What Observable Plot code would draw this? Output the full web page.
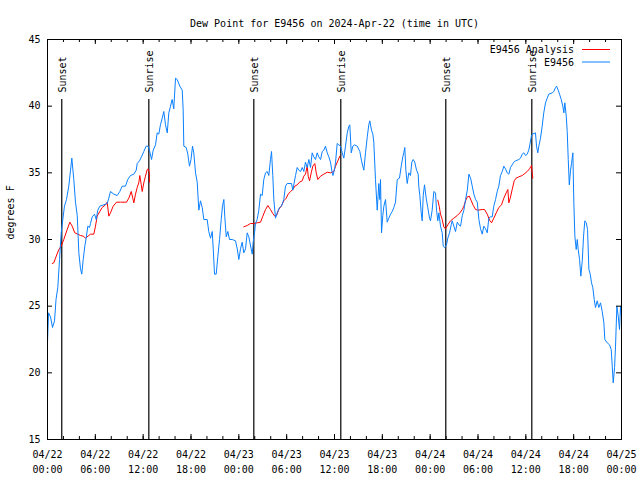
<!DOCTYPE html>
<html><head><meta charset="utf-8">
<script src="https://cdn.jsdelivr.net/npm/d3@7"></script>
<script src="https://cdn.jsdelivr.net/npm/@observablehq/plot@0.6"></script>
<style>body{margin:0;background:#fff}#chart{position:relative;width:640px;height:480px}#legend{position:absolute;left:0;top:0;pointer-events:none}</style>
</head><body><div id="chart"></div><script>
// ---- data (hours after 2024-04-22 00:00 UTC) ----
const titleText = "Dew Point for E9456 on 2024-Apr-22 (time in UTC)";
const yLabel = "degrees F";
const seriesNames = ["E9456 Analysis", "E9456"];

const stationHours = [0.00,0.13,0.38,0.63,0.88,1.07,1.29,1.51,1.72,1.92,2.13,2.38,2.67,2.89,3.05,3.30,3.51,3.73,3.93,4.14,4.30,4.48,4.68,4.85,5.06,5.27,5.39,5.61,5.90,6.11,6.31,6.56,7.06,7.49,7.69,7.90,8.32,8.74,9.07,9.37,9.78,10.07,10.41,10.83,11.13,11.25,11.54,11.79,12.08,12.38,12.63,12.79,13.05,13.26,13.55,13.76,13.96,14.17,14.39,14.59,14.80,15.02,15.22,15.43,15.64,15.84,16.06,16.27,16.60,16.90,17.02,17.10,17.40,17.60,17.81,18.00,18.19,18.35,18.57,18.78,18.98,19.19,19.41,19.61,20.03,20.23,20.45,20.66,20.79,20.95,21.16,21.36,21.58,21.79,21.95,22.12,22.24,22.42,22.62,22.83,23.17,23.58,23.80,24.00,24.21,24.42,24.62,24.84,25.05,25.25,25.38,25.55,25.68,25.80,25.97,26.09,26.30,26.51,26.72,26.93,27.13,27.35,27.56,27.76,27.97,28.10,28.26,28.39,28.60,28.81,29.10,29.35,29.64,29.85,30.07,30.61,30.77,31.11,31.32,31.52,31.74,31.95,32.15,32.36,32.58,32.78,32.99,33.20,33.40,33.62,33.83,34.03,34.25,34.46,34.66,34.87,35.09,35.29,35.50,35.71,35.81,36.04,36.13,36.34,36.54,36.75,36.97,37.17,37.38,37.60,37.80,37.92,38.10,38.30,38.51,38.85,39.18,39.39,39.55,39.68,39.89,40.11,40.30,40.43,40.64,40.81,40.93,41.14,41.36,41.56,41.68,41.77,41.90,42.06,42.19,42.40,42.61,42.81,43.03,43.24,43.44,43.65,43.87,44.15,44.37,44.57,44.69,44.82,44.95,45.12,45.32,45.53,45.70,45.87,46.07,46.29,46.50,46.57,46.70,46.88,47.00,47.13,47.29,47.50,47.70,47.92,48.04,48.25,48.46,48.67,48.80,48.96,49.09,49.30,49.51,49.64,49.84,50.05,50.21,50.43,50.64,50.76,50.97,51.18,51.40,51.60,51.81,52.03,52.23,52.44,52.66,52.86,53.07,53.28,53.48,53.70,53.91,54.11,54.32,54.53,54.73,54.95,55.16,55.36,55.57,55.78,55.98,56.20,56.41,56.61,56.82,57.04,57.24,57.45,57.66,57.87,58.08,58.29,58.49,58.71,59.12,59.33,59.55,59.75,59.96,60.17,60.37,60.50,60.68,60.80,61.21,61.34,61.50,61.63,61.84,62.05,62.25,62.47,62.68,62.88,63.31,63.51,63.72,63.85,64.06,64.23,64.44,64.64,64.77,64.89,65.07,65.19,65.32,65.45,65.61,65.73,65.90,66.02,66.15,66.32,66.45,66.57,66.74,66.90,67.08,67.24,67.40,67.58,67.74,67.91,68.08,68.24,68.40,68.58,68.74,68.95,69.16,69.37,69.58,69.79,69.91,70.21,70.50,70.71,70.84,70.96,71.13,71.25,71.42,71.59,71.75,71.88,72.00];
const stationValues = [22.3,24.5,24.2,23.4,23.9,25.5,26.4,28.5,30.5,31.5,32.5,33.0,34.0,35.2,36.1,34.5,32.8,31.8,29.0,27.8,27.4,28.5,29.5,30.1,31.0,30.9,31.2,31.7,31.9,31.5,32.2,32.5,32.6,32.7,33.1,33.6,33.4,33.3,33.6,34.0,34.0,34.5,34.8,34.9,35.2,35.7,35.9,36.2,36.6,37.0,37.0,36.7,36.0,36.7,37.1,38.0,37.9,38.6,39.1,39.6,38.6,38.0,39.5,40.0,40.5,39.8,42.1,42.0,41.5,41.2,39.7,37.0,36.9,36.4,35.5,36.0,37.0,36.5,35.0,34.3,32.2,32.9,32.4,31.5,31.5,30.6,30.1,30.6,29.3,27.4,27.4,28.7,30.0,31.5,32.5,33.0,31.7,30.2,30.6,30.0,30.0,29.9,29.3,28.5,29.3,29.8,29.0,29.3,30.5,30.2,29.8,29.3,28.9,29.8,30.5,31.2,31.5,32.2,33.4,33.3,34.5,35.0,35.1,34.8,36.0,36.6,34.8,33.0,31.6,32.0,32.4,32.5,33.0,34.0,34.2,34.2,33.7,34.8,35.4,35.2,35.1,35.4,35.1,35.8,35.4,36.0,35.4,36.5,36.2,36.0,36.5,36.2,36.0,36.6,36.7,37.0,36.5,36.2,35.8,35.0,34.8,35.4,35.8,37.2,37.1,37.0,36.5,36.1,37.0,38.0,38.5,38.6,36.5,37.0,37.1,37.0,36.6,35.9,35.5,35.2,36.5,37.7,38.6,38.9,38.2,37.9,37.3,34.5,32.2,34.2,33.0,34.5,30.5,31.8,32.5,33.0,31.3,31.6,31.9,32.1,32.4,32.8,34.5,34.6,35.5,36.2,36.5,36.9,35.2,34.2,35.0,34.8,35.8,36.0,35.8,35.2,34.9,34.0,33.3,32.0,31.4,33.3,34.1,33.1,32.4,31.6,31.4,32.2,33.6,33.5,32.2,31.4,32.0,31.0,30.5,29.5,29.4,29.6,30.1,30.5,31.1,31.4,31.0,30.6,31.3,31.1,31.0,31.8,32.2,33.0,33.7,34.9,34.6,34.0,33.4,33.0,32.8,31.5,30.8,30.4,31.0,30.8,30.5,31.6,31.7,31.7,32.5,33.0,33.6,34.0,34.8,35.1,35.5,35.3,35.0,34.9,35.4,35.6,35.8,35.9,36.0,36.1,36.4,36.5,36.3,36.4,36.7,37.1,37.7,37.9,38.0,37.0,36.5,37.0,37.6,38.5,39.5,40.25,40.6,40.9,41.0,41.1,41.4,41.5,41.2,40.9,40.5,40.0,39.5,40.25,39.25,38.1,36.0,34.1,35.2,35.7,36.5,32.8,30.25,29.25,30.0,29.25,28.5,27.25,28.4,30.25,31.4,31.25,30.75,27.75,27.4,26.75,26.4,25.5,24.9,25.4,24.9,25.25,24.6,23.75,22.5,22.25,22.1,21.75,20.5,19.25,20.4,22.0,25.0,24.25,23.25,25.0,24.25];

const analysis1Hours = [0.59,0.79,1.00,1.42,1.72,2.04,2.47,2.80,3.10,3.42,3.80,4.14,4.48,4.77,5.18,5.39,5.81,6.02,6.23,6.56,6.86,7.28,7.49,7.69,7.90,8.24,8.66,9.16,9.91,10.20,10.50,10.70,10.83,11.04,11.25,11.45,11.58,11.76,11.88,12.08,12.29,12.51,12.63,12.77,12.79];
const analysis1Values = [28.2,28.25,28.6,29.25,29.5,30.0,30.75,31.3,31.0,30.5,30.4,30.3,30.25,30.1,30.3,30.4,30.4,31.0,31.75,32.1,32.4,32.6,32.8,31.75,32.0,32.5,32.8,32.8,32.8,33.1,33.6,33.1,32.75,33.4,33.9,34.25,34.8,34.1,33.6,34.25,34.75,35.25,35.3,35.0,34.3];
const analysis2Hours = [24.62,25.05,25.46,25.88,26.30,26.72,27.01,27.35,27.64,27.97,28.26,28.51,28.73,29.01,29.32,29.64,29.94,30.19,30.48,30.77,31.02,31.32,31.61,31.95,32.15,32.36,32.58,32.70,32.87,33.08,33.28,33.53,33.71,33.91,34.25,34.66,35.09,35.50,35.91,36.13,36.42,36.67];
const analysis2Values = [30.95,31.05,31.2,31.2,31.25,31.3,31.75,32.25,32.55,32.25,31.95,31.75,31.8,32.25,32.5,32.9,33.1,33.4,33.6,33.75,34.0,34.1,34.3,34.4,34.75,34.9,35.5,34.75,34.4,35.0,35.5,35.7,35.0,34.5,34.75,34.9,35.05,35.0,35.1,35.5,35.9,36.25];
const analysis3Hours = [48.96,49.13,49.30,49.51,49.71,49.92,50.21,50.55,50.97,51.40,51.73,52.03,52.23,52.44,52.66,52.91,53.16,53.41,53.70,53.99,54.53,54.82,55.16,55.45,55.70,55.98,56.29,56.61,56.95,57.24,57.54,57.74,57.87,58.04,58.29,58.54,58.79,59.12,59.55,59.87,60.17,60.46,60.71,60.80,60.87];
const analysis3Values = [32.95,32.5,31.9,31.5,30.95,30.8,31.1,31.4,31.6,31.8,32.0,32.25,32.5,32.9,33.2,33.25,32.9,32.55,32.25,32.2,32.25,32.25,31.9,31.45,31.25,31.6,32.0,32.4,32.6,33.1,33.5,33.75,32.75,33.1,33.75,34.4,34.6,34.7,34.8,34.95,35.1,35.3,35.55,35.0,34.6];

const sunEvents = ["Sunset","Sunrise","Sunset","Sunrise","Sunset","Sunrise"];
const sunHours = [1.79,12.71,25.88,36.79,49.96,60.75];

const xMajorHours = [0,6,12,18,24,30,36,42,48,54,60,66,72];
const xMinorHours = [0,2,4,6,8,10,12,14,16,18,20,22,24,26,28,30,32,34,36,38,40,42,44,46,48,50,52,54,56,58,60,62,64,66,68,70,72];
const xTickLabels = ["04/22\n00:00","04/22\n06:00","04/22\n12:00","04/22\n18:00","04/23\n00:00","04/23\n06:00","04/23\n12:00","04/23\n18:00","04/24\n00:00","04/24\n06:00","04/24\n12:00","04/24\n18:00","04/25\n00:00"];
const yTicks = [15,20,25,30,35,40,45];

// ---- build ----
const t0 = Date.UTC(2024, 3, 22);
const toDate = h => new Date(t0 + h * 3600000);
const station = stationHours.map((h, i) => ({t: toDate(h), v: stationValues[i]}));
const analysis = [
  ...analysis1Hours.map((h, i) => ({t: toDate(h), v: analysis1Values[i], s: 1})),
  ...analysis2Hours.map((h, i) => ({t: toDate(h), v: analysis2Values[i], s: 2})),
  ...analysis3Hours.map((h, i) => ({t: toDate(h), v: analysis3Values[i], s: 3}))
];
const sun = sunHours.map((h, i) => ({t: toDate(h), label: sunEvents[i]}));
const majors = xMajorHours.map((h, i) => ({t: toDate(h), label: xTickLabels[i]}));
const minors = xMinorHours.map(toDate);

const FONT = "DejaVu Sans Mono";
const RED = "#ff0000", BLUE = "#0a80ff";
const W = 640, H = 480, mL = 47, mR = 19, mT = 39, mB = 41;
const fw = W - mL - mR, fh = H - mT - mB;

const chart = Plot.plot({
  width: W, height: H,
  marginLeft: mL, marginRight: mR, marginTop: mT, marginBottom: mB,
  style: {fontFamily: FONT, fontSize: "10px", background: "white", color: "black"},
  x: {type: "utc", domain: [toDate(0), toDate(72)], axis: null},
  y: {domain: [15, 45], axis: null},
  marks: [
    Plot.ruleX(sun, {x: "t", stroke: "black", strokeWidth: 1.2, insetTop: 60}),
    Plot.text(sun, {x: "t", text: "label", frameAnchor: "top", dy: 53, dx: 1, rotate: -90, textAnchor: "start", lineAnchor: "middle", fontSize: 10, fill: "black"}),
    Plot.line(analysis, {x: "t", y: "v", z: "s", stroke: RED, strokeWidth: 1}),
    Plot.line(station, {x: "t", y: "v", stroke: BLUE, strokeWidth: 1}),
    Plot.frame({stroke: "black", strokeWidth: 1}),
    Plot.ruleX(minors, {x: d => d, insetTop: fh - 3, stroke: "black"}),
    Plot.ruleX(minors, {x: d => d, insetBottom: fh - 3, stroke: "black"}),
    Plot.ruleX(majors, {x: "t", insetTop: fh - 5, stroke: "black"}),
    Plot.ruleX(majors, {x: "t", insetBottom: fh - 5, stroke: "black"}),
    Plot.ruleY(yTicks, {y: d => d, insetRight: fw - 5, stroke: "black"}),
    Plot.ruleY(yTicks, {y: d => d, insetLeft: fw - 5, stroke: "black"}),
    Plot.text(majors, {x: "t", text: "label", frameAnchor: "bottom", lineAnchor: "top", dy: 8, lineHeight: 1.5, fontSize: 10, fill: "black"}),
    Plot.text(yTicks, {y: d => d, text: d => String(d), frameAnchor: "left", textAnchor: "end", dx: -7, fontSize: 10, fill: "black"}),
    Plot.text([yLabel], {frameAnchor: "left", dx: -37, rotate: -90, fontSize: 10, fill: "black"}),
    Plot.text([titleText], {frameAnchor: "top", dy: -20, fontSize: 10, fill: "black"})
  ]
});
const root = document.getElementById("chart");
root.appendChild(chart);

// legend (inside plot, top right)
const lg = d3.select(root).append("svg").attr("id", "legend").attr("width", W).attr("height", H)
  .style("font-family", FONT).style("font-size", "10px");
const rows = [{name: seriesNames[0], color: RED, y: 49.5}, {name: seriesNames[1], color: BLUE, y: 62}];
rows.forEach(r => {
  lg.append("text").attr("x", 574).attr("y", r.y).attr("text-anchor", "end").attr("dy", "0.35em").attr("fill", "black").text(r.name);
  lg.append("line").attr("x1", 582).attr("x2", 610).attr("y1", r.y).attr("y2", r.y).attr("stroke", r.color).attr("stroke-width", 1);
});
</script></body></html>
